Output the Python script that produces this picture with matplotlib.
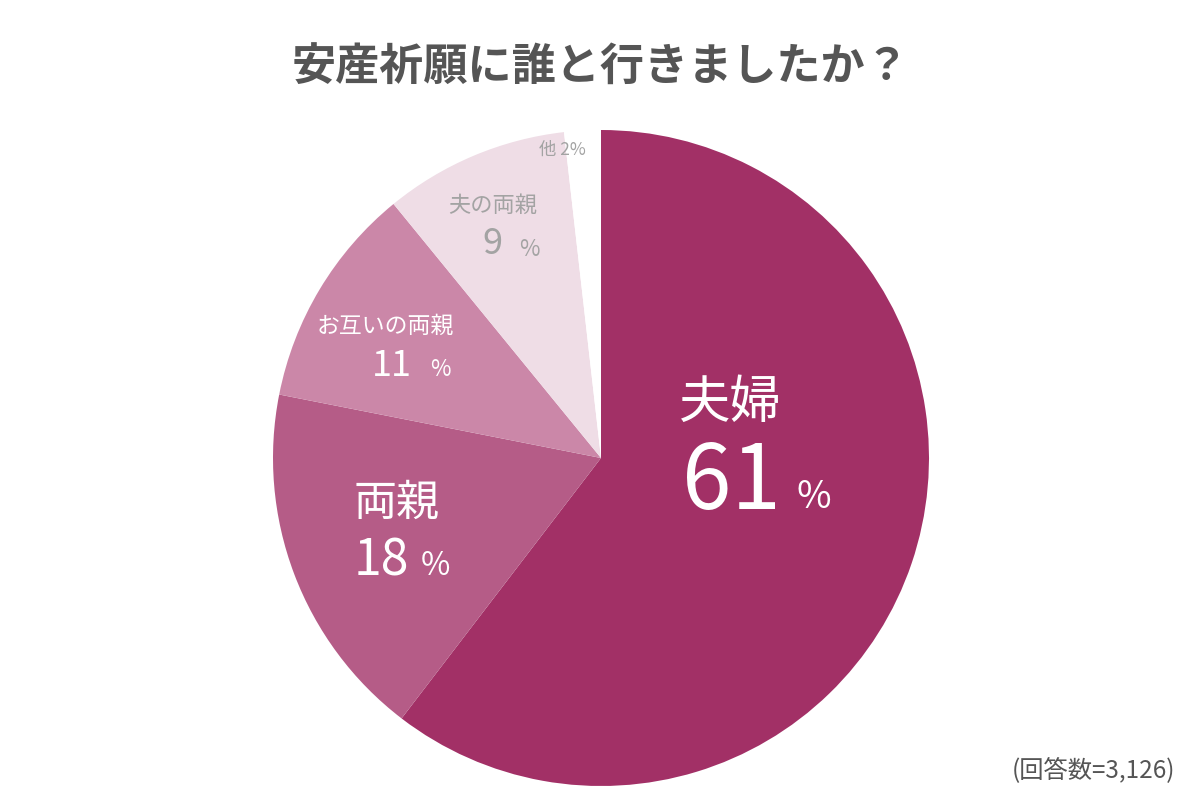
import matplotlib
matplotlib.use("Agg")
import matplotlib.pyplot as plt

plt.rcParams['font.family'] = ['Noto Sans CJK JP', 'DejaVu Sans']

# data
CATEGORIES = ["夫婦", "両親", "お互いの両親", "夫の両親", "他"]
SHARES = [60.4, 17.7, 11.0, 9.1, 1.8]
SHOWN_PCT = ["61", "18", "11", "9", "2"]
COLORS = ['#a23066', '#b55c87', '#cb87a8', '#efdde6', '#ffffff']

TITLE = "安産祈願に誰と行きましたか？"
NOTE = "(回答数=3,126)"

W, H = 1200, 800


def px(y):
    # picture rows are counted from the top
    return H - y


fig = plt.figure(figsize=(12, 8), dpi=100)
ax = fig.add_axes([0, 0, 1, 1])
ax.set_xlim(0, W)
ax.set_ylim(0, H)
ax.set_aspect('equal')
ax.axis('off')

ax.pie(SHARES, colors=COLORS, startangle=90, counterclock=False,
       center=(601, px(458)), radius=328,
       wedgeprops=dict(linewidth=0))
ax.set_xlim(0, W)
ax.set_ylim(0, H)

ax.text(600, px(68), TITLE, ha='center', va='center', fontsize=31.8,
        fontweight='bold', color='#555555')
ax.text(1093, px(770), NOTE, ha='center', va='center', fontsize=17.5,
        color='#555555')

white = '#ffffff'
grey = '#a3a3a3'

# 夫婦
ax.text(730, px(403), CATEGORIES[0], ha='center', va='center', fontsize=37, color=white)
ax.text(731, px(484), SHOWN_PCT[0], ha='center', va='center', fontsize=64, color=white)
ax.text(814, px(498), "%", ha='center', va='center', fontsize=27, color=white)

# 両親
ax.text(397, px(504), CATEGORIES[1], ha='center', va='center', fontsize=31, color=white)
ax.text(381, px(561), SHOWN_PCT[1], ha='center', va='center', fontsize=36, color=white)
ax.text(435, px(566), "%", ha='center', va='center', fontsize=23, color=white)

# お互いの両親
ax.text(385, px(326), CATEGORIES[2], ha='center', va='center', fontsize=16.5, color=white)
ax.text(392, px(366), SHOWN_PCT[2], ha='center', va='center', fontsize=26, color=white)
ax.text(440, px(370), "%", ha='center', va='center', fontsize=16, color=white)

# 夫の両親
ax.text(493, px(205), CATEGORIES[3], ha='center', va='center', fontsize=16, color=grey)
ax.text(492, px(244), SHOWN_PCT[3], ha='center', va='center', fontsize=26, color=grey)
ax.text(529, px(249), "%", ha='center', va='center', fontsize=16, color=grey)

# 他
ax.text(562, px(150), CATEGORIES[4] + " " + SHOWN_PCT[4] + "%", ha='center',
        va='center', fontsize=12.5, color=grey)

fig.savefig("out.png", dpi=100, facecolor='white')
